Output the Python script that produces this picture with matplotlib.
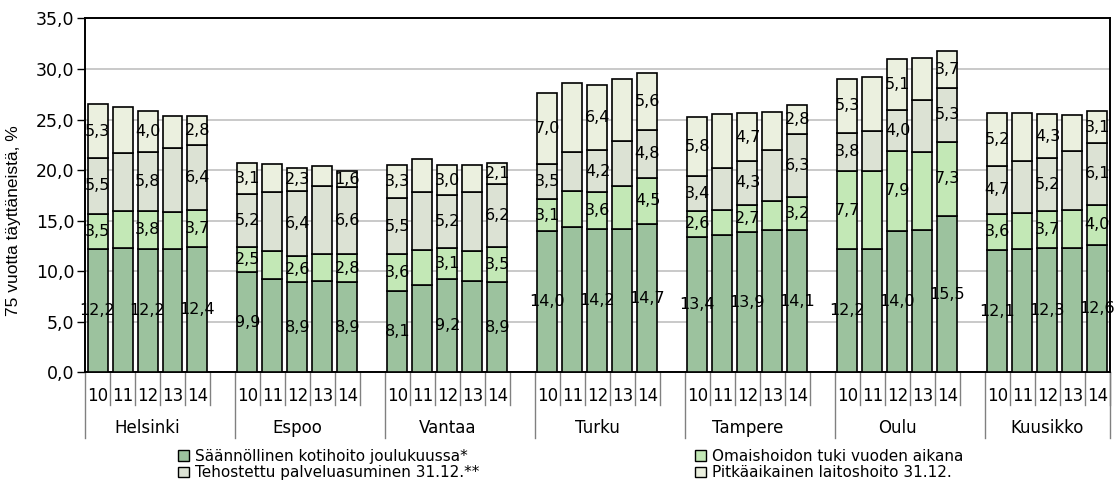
import numpy as np
import matplotlib.pyplot as plt
from matplotlib.patches import Patch

cities = ['Helsinki', 'Espoo', 'Vantaa', 'Turku', 'Tampere', 'Oulu', 'Kuusikko']
years = ['10', '11', '12', '13', '14']

series_names = [
    'Säännöllinen kotihoito joulukuussa*',
    'Omaishoidon tuki vuoden aikana',
    'Tehostettu palveluasuminen 31.12.**',
    'Pitkäaikainen laitoshoito 31.12.',
]

# values per city, years 10..14
kotihoito = [
    [12.2, 12.3, 12.2, 12.2, 12.4],
    [9.9, 9.2, 8.9, 9.0, 8.9],
    [8.1, 8.6, 9.2, 9.0, 8.9],
    [14.0, 14.4, 14.2, 14.2, 14.7],
    [13.4, 13.6, 13.9, 14.1, 14.1],
    [12.2, 12.2, 14.0, 14.1, 15.5],
    [12.1, 12.2, 12.3, 12.3, 12.6],
]
omaishoito = [
    [3.5, 3.7, 3.8, 3.7, 3.7],
    [2.5, 2.8, 2.6, 2.7, 2.8],
    [3.6, 3.5, 3.1, 3.0, 3.5],
    [3.1, 3.5, 3.6, 4.2, 4.5],
    [2.6, 2.5, 2.7, 2.8, 3.2],
    [7.7, 7.7, 7.9, 7.7, 7.3],
    [3.6, 3.6, 3.7, 3.8, 4.0],
]
tehostettu = [
    [5.5, 5.7, 5.8, 6.3, 6.4],
    [5.2, 5.8, 6.4, 6.7, 6.6],
    [5.5, 5.7, 5.2, 5.8, 6.2],
    [3.5, 3.9, 4.2, 4.5, 4.8],
    [3.4, 4.1, 4.3, 5.1, 6.3],
    [3.8, 4.0, 4.0, 5.1, 5.3],
    [4.7, 5.1, 5.2, 5.8, 6.1],
]
laitoshoito = [
    [5.3, 4.5, 4.0, 3.1, 2.8],
    [3.1, 2.8, 2.3, 2.0, 1.6],
    [3.3, 3.3, 3.0, 2.7, 2.1],
    [7.0, 6.8, 6.4, 6.1, 5.6],
    [5.8, 5.3, 4.7, 3.7, 2.8],
    [5.3, 5.3, 5.1, 4.2, 3.7],
    [5.2, 4.7, 4.3, 3.5, 3.1],
]

colors = ['#9cc29e', '#c3e8b6', '#dce2d4', '#ebf0df']
labelled_years = [0, 2, 4]


def fmt(v):
    return f'{v:.1f}'.replace('.', ',')


fig = plt.figure(figsize=(11.2, 4.83), dpi=100)
ax = fig.add_axes([0.0759, 0.2288, 0.9151, 0.7333])

series = [kotihoito, omaishoito, tehostettu, laitoshoito]
n_c, n_y = len(cities), len(years)
x = np.array([6 * i + j for i in range(n_c) for j in range(n_y)], dtype=float)
bottom = np.zeros(len(x))
for k, s in enumerate(series):
    vals = np.array(s).ravel()
    ax.bar(x, vals, width=0.8, bottom=bottom, color=colors[k],
           edgecolor='black', linewidth=1.2, zorder=3)
    for idx, (xi, v, b) in enumerate(zip(x, vals, bottom)):
        if idx % n_y in labelled_years:
            ax.text(xi, b + v / 2, fmt(v), ha='center', va='center',
                    fontsize=11.5, zorder=4)
    bottom += vals

ax.set_xlim(-0.5, 6 * (n_c - 1) + n_y - 0.5)
ax.set_ylim(0, 35)
yt = np.arange(0, 36, 5)
ax.set_yticks(yt)
ax.set_yticklabels([fmt(v) for v in yt], fontsize=12.5)
ax.tick_params(axis='y', length=5.5, width=1, pad=2)
ax.grid(axis='y', color='#c0c0c0', linewidth=1.2, zorder=0)
for sp in ax.spines.values():
    sp.set_linewidth(1.4)
ax.set_xticks([])
ax.set_ylabel('75 vuotta täyttäneistä, %', family='Liberation Sans',
              fontsize=12.5)
ax.yaxis.set_label_coords(-0.062, 0.43)

# two-level category axis
tr = ax.get_xaxis_transform()
for i, city in enumerate(cities):
    s0 = 6 * i
    ax.plot([s0 - 0.5, s0 - 0.5], [0, -0.185], color='#808080', lw=1,
            transform=tr, clip_on=False)
    for j, yr in enumerate(years):
        ax.text(s0 + j, -0.065, yr, transform=tr, ha='center', va='center',
                fontsize=12)
        ax.plot([s0 + j + 0.5, s0 + j + 0.5], [0, -0.092], color='#808080',
                lw=1, transform=tr, clip_on=False)
    ax.text(s0 + 2, -0.157, city, transform=tr, ha='center', va='center',
            fontsize=12)
ax.plot([x[-1] + 0.5] * 2, [0, -0.185], color='#808080', lw=1,
        transform=tr, clip_on=False)

handles = [Patch(facecolor=c, edgecolor='black', linewidth=1) for c in colors]
leg_kw = dict(loc='upper left', frameon=False, fontsize=11,
              handlelength=0.75, handleheight=0.7, handletextpad=0.35,
              labelspacing=0.08, borderaxespad=0, borderpad=0)
fig.legend([handles[0], handles[2]], [series_names[0], series_names[2]],
           bbox_to_anchor=(178 / 1120, 1 - 449 / 483), **leg_kw)
fig.legend([handles[1], handles[3]], [series_names[1], series_names[3]],
           bbox_to_anchor=(695 / 1120, 1 - 449 / 483), **leg_kw)

fig.savefig('out.png', dpi=100)
